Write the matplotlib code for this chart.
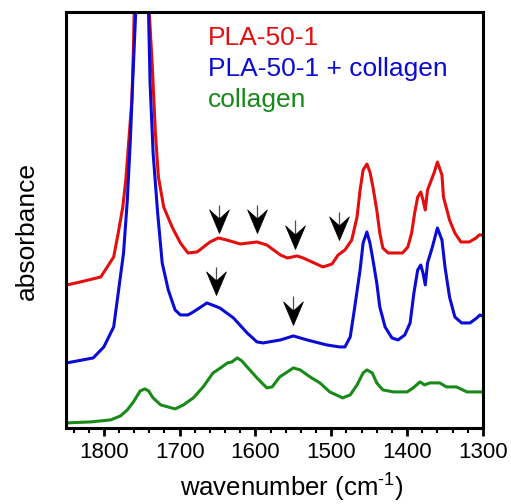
import matplotlib
matplotlib.use("Agg")
import matplotlib.pyplot as plt
import numpy as np
from matplotlib.ticker import MultipleLocator
from matplotlib.path import Path

plt.rcParams['font.family'] = ['Liberation Sans', 'DejaVu Sans']
plt.rcParams['mathtext.fontset'] = 'custom'
plt.rcParams['mathtext.rm'] = 'Liberation Sans'
plt.rcParams['mathtext.it'] = 'Liberation Sans:italic'
plt.rcParams['mathtext.bf'] = 'Liberation Sans:bold'

# ---------------- data (wavenumber cm-1, absorbance a.u., offset) ----------------
red_wn = [1849, 1831, 1804, 1787, 1781, 1775, 1771, 1767, 1763, 1761, 1760, 1750, 1740,
          1736, 1732, 1728, 1721, 1710, 1699, 1689, 1677, 1660, 1649, 1638, 1620, 1598,
          1585, 1567, 1558, 1545, 1537, 1511, 1499, 1491, 1482, 1473, 1466, 1462, 1458,
          1453, 1449, 1445, 1440, 1436, 1432, 1425, 1416, 1406, 1399, 1394, 1390, 1386,
          1382, 1379, 1376, 1373, 1369, 1364, 1360, 1354, 1352, 1344, 1337, 1329, 1318,
          1309, 1305, 1301]
red_abs = [1.43, 1.46, 1.51, 1.71, 1.95, 2.21, 2.48, 2.88, 3.28, 3.78, 4.15, 8.28, 4.15,
           3.61, 2.95, 2.51, 2.21, 2.01, 1.85, 1.75, 1.76, 1.86, 1.90, 1.88, 1.84, 1.86,
           1.83, 1.73, 1.70, 1.72, 1.70, 1.61, 1.64, 1.73, 1.78, 1.88, 2.11, 2.38, 2.58,
           2.64, 2.56, 2.41, 2.18, 1.95, 1.80, 1.75, 1.75, 1.75, 1.81, 1.95, 2.15, 2.31,
           2.36, 2.28, 2.18, 2.38, 2.46, 2.56, 2.66, 2.53, 2.31, 2.08, 1.95, 1.86, 1.86,
           1.90, 1.93, 1.93]

blue_wn = [1849, 1814, 1800, 1787, 1781, 1774, 1769, 1765, 1762, 1758, 1750, 1741, 1739,
           1735, 1729, 1723, 1715, 1706, 1699, 1689, 1682, 1664, 1647, 1629, 1611, 1598,
           1590, 1567, 1550, 1532, 1506, 1489, 1482, 1475, 1469, 1462, 1458, 1453, 1449,
           1445, 1440, 1436, 1429, 1420, 1412, 1403, 1396, 1391, 1386, 1382, 1379, 1376,
           1373, 1367, 1360, 1354, 1350, 1344, 1337, 1328, 1317, 1308, 1304, 1301]
blue_abs = [0.65, 0.70, 0.81, 1.01, 1.35, 1.75, 2.28, 2.88, 3.45, 4.15, 8.28, 4.15, 3.45,
            2.75, 2.15, 1.65, 1.38, 1.18, 1.13, 1.13, 1.16, 1.25, 1.20, 1.10, 0.95, 0.86,
            0.85, 0.88, 0.92, 0.88, 0.83, 0.81, 0.81, 0.91, 1.21, 1.58, 1.85, 1.96, 1.85,
            1.68, 1.45, 1.21, 1.01, 0.90, 0.88, 0.93, 1.05, 1.35, 1.58, 1.63, 1.55, 1.43,
            1.65, 1.80, 2.00, 1.88, 1.61, 1.31, 1.11, 1.05, 1.05, 1.10, 1.13, 1.12]

green_wn = [1849, 1817, 1791, 1778, 1769, 1761, 1752, 1746, 1741, 1735, 1725, 1706, 1695,
            1682, 1669, 1656, 1646, 1637, 1631, 1624, 1618, 1611, 1598, 1585, 1578, 1568,
            1558, 1550, 1541, 1528, 1515, 1502, 1485, 1475, 1466, 1458, 1453, 1446, 1440,
            1432, 1418, 1400, 1392, 1383, 1377, 1370, 1357, 1348, 1335, 1321, 1301]
green_abs = [0.05, 0.06, 0.08, 0.12, 0.18, 0.26, 0.37, 0.39, 0.37, 0.30, 0.23, 0.19, 0.23,
             0.30, 0.41, 0.55, 0.60, 0.65, 0.66, 0.70, 0.67, 0.61, 0.50, 0.40, 0.41, 0.51,
             0.56, 0.60, 0.58, 0.51, 0.45, 0.36, 0.30, 0.33, 0.43, 0.55, 0.58, 0.55, 0.45,
             0.38, 0.36, 0.36, 0.40, 0.46, 0.43, 0.45, 0.45, 0.41, 0.41, 0.36, 0.36]

labels = ['PLA-50-1', 'PLA-50-1 + collagen', 'collagen']
colors = ['#e30e0e', '#0b0bd6', '#178a17']

# arrows: wavenumber, tip, tail
arrow_wn = [1648, 1598, 1548, 1490, 1652, 1550]
arrow_tip = [1.95, 1.95, 1.79, 1.88, 1.33, 1.03]
arrow_tail = [2.23, 2.23, 2.08, 2.16, 1.61, 1.32]

xticks = [1800, 1700, 1600, 1500, 1400, 1300]

# ---------------- figure ----------------
fig = plt.figure(figsize=(5.11, 5.04), dpi=100)
ax = fig.add_axes([0.129, 0.151, 0.816, 0.825])

for wn, ab, c in zip([red_wn, blue_wn, green_wn], [red_abs, blue_abs, green_abs], colors):
    ax.plot(wn, ab, color=c, lw=2.2, solid_joinstyle='round', solid_capstyle='round')

# notched arrow head marker, tip at the marker origin, pointing down
head = Path([(0, 0), (-0.42, 1.0), (0, 0.62), (0.42, 1.0), (0, 0)],
            [Path.MOVETO, Path.LINETO, Path.LINETO, Path.LINETO, Path.CLOSEPOLY])
for w, t, s in zip(arrow_wn, arrow_tip, arrow_tail):
    ax.plot([w, w], [t + 0.1, s], color='0.3', lw=0.9, solid_capstyle='butt')
    ax.plot([w], [t], marker=head, ms=34, color='black', mec='black', mew=0.5,
            linestyle='none')

ax.set_xlim(1850, 1300)
ax.set_ylim(0, 4.16)
ax.set_xticks(xticks)
ax.xaxis.set_minor_locator(MultipleLocator(20))
ax.set_yticks([])
ax.tick_params(axis='x', which='major', direction='out', length=6, width=2,
               labelsize=16, pad=4, top=False)
ax.tick_params(axis='x', which='minor', direction='out', length=3.5, width=1.5, top=False)
for sp in ax.spines.values():
    sp.set_linewidth(2.2)

ax.set_xlabel(r'wavenumber (cm$^{\text{-1}}$)', fontsize=18.5)
ax.xaxis.set_label_coords(0.541, -0.106)
ax.set_ylabel('absorbance', fontsize=19)
ax.yaxis.set_label_coords(-0.066, 0.474)

ty = [0.921, 0.846, 0.772]
for lab, c, y in zip(labels, colors, ty):
    ax.text(0.341, y, lab, color=c, fontsize=19, transform=ax.transAxes,
            ha='left', va='baseline')

fig.savefig('out.png', dpi=100)
